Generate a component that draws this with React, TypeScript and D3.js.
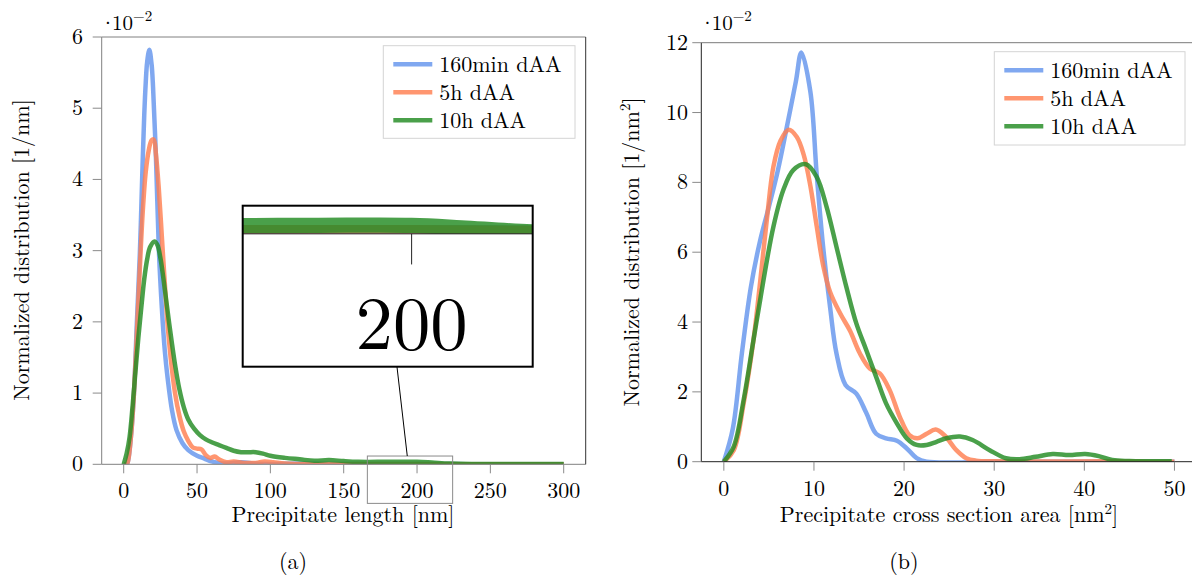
import React from 'react'
import * as d3 from 'd3'

type Pt = [number, number]

const W = 1192
const H = 577
const FONT = '"Latin Modern Roman", "Liberation Serif", serif'
const TXT = { fontFamily: FONT }

const seriesNames = ['160min dAA', '5h dAA', '10h dAA']
const seriesColors = ['#6495ed', '#ff7f50', '#228b22']

const lengthTicksX = [0, 50, 100, 150, 200, 250, 300]
const lengthTicksY = [0, 1, 2, 3, 4, 5, 6]
const areaTicksX = [0, 10, 20, 30, 40, 50]
const areaTicksY = [0, 2, 4, 6, 8, 10, 12]

// (a) precipitate length [nm] vs distribution [1e-2 / nm]
const length160min: Pt[] = [
  [0, 0], [2, 0], [3, 0.05], [5, 0.4], [7, 1.0], [9, 2.0], [11, 2.95], [12, 3.6], [13, 4.3],
  [14, 4.9], [15, 5.35], [16, 5.65], [17.5, 5.82], [19, 5.62], [20, 5.3], [22, 4.3], [24, 3.0],
  [26, 2.2], [28, 1.6], [30, 1.2], [33, 0.75], [36, 0.48], [40, 0.3], [44, 0.2], [50, 0.12],
  [55, 0.08], [60, 0.04], [65, 0.015], [70, 0.01], [80, 0.03], [90, 0.01], [100, 0.005],
  [120, 0.01], [150, 0.005], [200, 0.005], [250, 0], [300, 0],
]
const length5h: Pt[] = [
  [0, 0], [2, 0], [3, 0.05], [5, 0.4], [7, 1.0], [9, 1.85], [11, 2.75], [13, 3.55], [15, 4.1],
  [17, 4.4], [19, 4.55], [20.5, 4.56], [22, 4.35], [24, 3.85], [26, 3.2], [28, 2.55], [30, 1.95],
  [32, 1.5], [35, 1.0], [38, 0.68], [41, 0.46], [44, 0.33], [47, 0.24], [50, 0.22], [53, 0.21],
  [56, 0.13], [59, 0.09], [62, 0.11], [65, 0.07], [70, 0.03], [75, 0.04], [82, 0.02], [90, 0.02],
  [96, 0.04], [102, 0.03], [110, 0.01], [130, 0], [160, 0.005], [200, 0.005], [250, 0], [300, 0],
]
const length10h: Pt[] = [
  [0, 0], [2, 0.15], [4, 0.38], [6, 0.8], [8, 1.3], [10, 1.78], [12, 2.2], [14, 2.6], [16, 2.88],
  [18, 3.05], [21, 3.13], [23, 3.08], [25, 2.9], [27, 2.62], [29, 2.3], [31, 1.98], [33, 1.68],
  [35, 1.4], [38, 1.05], [41, 0.8], [44, 0.63], [48, 0.5], [52, 0.41], [56, 0.35], [60, 0.31],
  [65, 0.27], [70, 0.23], [75, 0.19], [80, 0.17], [85, 0.17], [90, 0.17], [95, 0.15], [100, 0.12],
  [110, 0.09], [120, 0.07], [130, 0.05], [140, 0.06], [150, 0.045], [160, 0.035], [180, 0.035],
  [200, 0.035], [210, 0.025], [222, 0.01], [240, 0.004], [270, 0.003], [300, 0.003],
]

// (b) precipitate cross section area [nm^2] vs distribution [1e-2 / nm^2]
const area160min: Pt[] = [
  [0, 0], [1, 0.95], [2, 3.1], [3, 5.0], [4, 6.3], [5, 7.3], [6, 8.35], [7, 9.6], [8, 10.9],
  [8.6, 11.72], [9.6, 10.6], [10.3, 8.25], [11, 6.2], [11.8, 4.4], [12.5, 3.1], [13.5, 2.2],
  [14.7, 1.95], [15.8, 1.4], [16.9, 0.8], [18, 0.67], [19.2, 0.6], [20.3, 0.38], [21.4, 0.1],
  [22.5, 0], [30, 0], [40, 0], [50, 0],
]
const area5h: Pt[] = [
  [0, 0], [1.1, 0.33], [2.2, 1.67], [3.3, 3.5], [4.05, 5.2], [4.8, 7.0], [5.5, 8.45], [6.3, 9.2],
  [7.2, 9.51], [8.1, 9.3], [8.85, 8.8], [9.6, 7.9], [10.3, 6.75], [11, 5.65], [11.8, 4.85],
  [12.9, 4.25], [14, 3.75], [15.1, 3.1], [16.2, 2.67], [17.3, 2.53], [18.4, 2.05], [19.5, 1.3],
  [20.6, 0.76], [21.5, 0.67], [22.5, 0.8], [23.5, 0.92], [24.5, 0.75], [25.8, 0.33], [26.9, 0.1],
  [28, 0.03], [30, 0.01], [44, 0.01], [47, 0], [50, 0],
]
const area10h: Pt[] = [
  [0, 0], [1.1, 0.43], [2.2, 1.77], [3.3, 3.5], [4.4, 5.2], [5.5, 6.73], [6.6, 7.78], [7.7, 8.35],
  [9.1, 8.52], [10.3, 8.16], [11.4, 7.3], [12.5, 6.15], [13.6, 5.0], [14.7, 3.96], [15.8, 3.2],
  [16.9, 2.43], [18, 1.67], [19.2, 1.1], [20.3, 0.67], [21.4, 0.48], [22.5, 0.48], [23.6, 0.57],
  [24.7, 0.67], [26.2, 0.72], [27.6, 0.62], [29.5, 0.33], [31.3, 0.1], [32.8, 0.07], [34.6, 0.14],
  [36.5, 0.22], [38.3, 0.19], [40.1, 0.22], [41.6, 0.16], [43.1, 0.05], [45, 0.02], [49.7, 0.01],
]

type Spy = { cx: number; cy: number; mag: number; ix: number; iy: number; w: number; h: number }

type PanelProps = {
  id: string
  x0: number; x1: number; y0: number; y1: number
  xDomain: [number, number]; yDomain: [number, number]
  xTicks: number[]; yTicks: number[]
  data: Pt[][]
  frameColor: string; axisColor: string; rightColor: string
  yLabelRight: number
  legend: { x: number; y: number; w: number; h: number }
  spy?: Spy
}

const TICK = 9
const GRAY = '#8a8a8a'

const Panel = (props: PanelProps) => {
  const { id, x0, x1, y0, y1, xDomain, yDomain, xTicks, yTicks, data, legend, spy } = props
  const x = d3.scaleLinear().domain(xDomain).range([x0, x1])
  const y = d3.scaleLinear().domain(yDomain).range([y1, y0])
  const line = d3.line<Pt>()
    .x(d => x(d[0]))
    .y(d => y(d[1]))
    .curve(d3.curveCatmullRom.alpha(0.5))

  // curves + x axis, reused by the magnifier
  const body = (tickColor: string) => (
    <g>
      <g clipPath={`url(#${id}-clip)`}>
        {data.map((s, i) => (
          <path key={i} d={line(s) || ''} fill="none" stroke={seriesColors[i]}
            strokeOpacity={0.82} strokeWidth={4.5} strokeLinejoin="round" />
        ))}
      </g>
      <line x1={x0} x2={x1} y1={y1} y2={y1} stroke={tickColor === GRAY ? props.axisColor : '#222'} vectorEffect="non-scaling-stroke" />
      {xTicks.map(t => (
        <g key={t}>
          <line x1={x(t)} x2={x(t)} y1={y1} y2={y1 + TICK} stroke={tickColor} vectorEffect="non-scaling-stroke" />
          <text x={x(t)} y={y1 + 34} textAnchor="middle" fontSize={22} style={TXT}>{t}</text>
        </g>
      ))}
    </g>
  )

  let inset = null
  if (spy) {
    const sw = spy.w / spy.mag, sh = spy.h / spy.mag
    const dx = spy.ix - spy.cx, dy = spy.iy - spy.cy
    const t1 = Math.min(sw / 2 / Math.abs(dx || 1e-9), sh / 2 / Math.abs(dy || 1e-9))
    const t2 = Math.min(spy.w / 2 / Math.abs(dx || 1e-9), spy.h / 2 / Math.abs(dy || 1e-9))
    inset = (
      <g>
        <rect x={spy.cx - sw / 2} y={spy.cy - sh / 2} width={sw} height={sh} fill="none" stroke={GRAY} strokeWidth={1} />
        <line x1={spy.cx + dx * t1} y1={spy.cy + dy * t1} x2={spy.ix - dx * t2} y2={spy.iy - dy * t2} stroke="#000" strokeWidth={1} />
        <clipPath id={`${id}-spy`}>
          <rect x={spy.ix - spy.w / 2} y={spy.iy - spy.h / 2} width={spy.w} height={spy.h} />
        </clipPath>
        <rect x={spy.ix - spy.w / 2} y={spy.iy - spy.h / 2} width={spy.w} height={spy.h} fill="#fff" />
        <g clipPath={`url(#${id}-spy)`}>
          <g transform={`translate(${spy.ix},${spy.iy}) scale(${spy.mag}) translate(${-spy.cx},${-spy.cy})`}>
            {body('#222')}
          </g>
        </g>
        <rect x={spy.ix - spy.w / 2} y={spy.iy - spy.h / 2} width={spy.w} height={spy.h} fill="none" stroke="#000" strokeWidth={2} />
      </g>
    )
  }

  return (
    <g>
      <clipPath id={`${id}-clip`}>
        <rect x={x0} y={y0} width={x1 - x0} height={y1 - y0} />
      </clipPath>
      {body(GRAY)}
      {/* frame */}
      <line x1={x0} x2={x1} y1={y0} y2={y0} stroke={props.frameColor} />
      <line x1={x1} x2={x1} y1={y0} y2={y1} stroke={props.rightColor} />
      <line x1={x0} x2={x0} y1={y0} y2={y1} stroke={props.axisColor} />
      {yTicks.map(t => (
        <g key={t}>
          <line x1={x0 - TICK} x2={x0} y1={y(t)} y2={y(t)} stroke={GRAY} />
          <text x={props.yLabelRight} y={y(t) + 7} textAnchor="end" fontSize={22} style={TXT}>{t}</text>
        </g>
      ))}
      <text x={x0 - 2} y={30} fontSize={21} style={TXT}>·<tspan dx={-4}>10</tspan><tspan dy={-9} fontSize={15}>−2</tspan></text>
      {/* legend */}
      <rect x={legend.x} y={legend.y} width={legend.w} height={legend.h} fill="#fff" stroke="#d4d4d4" />
      {seriesNames.map((n, i) => {
        const ry = legend.y + 18.5 + i * 28
        return (
          <g key={n}>
            <line x1={legend.x + 10} x2={legend.x + 49} y1={ry} y2={ry} stroke={seriesColors[i]} strokeOpacity={0.82} strokeWidth={4.5} />
            <text x={legend.x + 56} y={ry + 7.5} fontSize={22} style={TXT}>{n}</text>
          </g>
        )
      })}
      {inset}
    </g>
  )
}

const App = () => {
  return (
    <svg width={W} height={H} style={{ position: 'absolute', left: 0, top: 0, background: '#fff' }}>
      <Panel id="pa" x0={101.7} x1={585.7} y0={37} y1={464.3}
        xDomain={[-15, 315]} yDomain={[0, 6]} xTicks={lengthTicksX} yTicks={lengthTicksY}
        data={[length160min, length5h, length10h]}
        frameColor="#808080" axisColor="#808080" rightColor="#333" yLabelRight={83}
        legend={{ x: 383.3, y: 45.7, w: 191.7, h: 92.6 }}
        spy={{ cx: 410, cy: 479.7, mag: 3.4, ix: 387.7, iy: 286.2, w: 290, h: 161 }} />
      <text transform="translate(29,250) rotate(-90)" textAnchor="middle" fontSize={22} style={TXT}>Normalized distribution [1/nm]</text>
      <text x={343} y={522} textAnchor="middle" fontSize={22} style={TXT}>Precipitate length [nm]</text>
      <text x={293} y={569} textAnchor="middle" fontSize={22} style={TXT}>(a)</text>

      <Panel id="pb" x0={701.3} x1={1197} y0={42.7} y1={461.7}
        xDomain={[-2.5, 52.5]} yDomain={[0, 12]} xTicks={areaTicksX} yTicks={areaTicksY}
        data={[area160min, area5h, area10h]}
        frameColor="#7a7a7a" axisColor="#222" rightColor="#222" yLabelRight={688}
        legend={{ x: 994.3, y: 51.7, w: 190.7, h: 93.3 }} />
      <text transform="translate(639,252) rotate(-90)" textAnchor="middle" fontSize={22} style={TXT}>
        Normalized distribution [1/nm<tspan dy={-9} fontSize={15}>2</tspan><tspan dy={9}>]</tspan>
      </text>
      <text x={949} y={522} textAnchor="middle" fontSize={22} style={TXT}>
        Precipitate cross section area [nm<tspan dy={-8} fontSize={15}>2</tspan><tspan dy={8}>]</tspan>
      </text>
      <text x={904} y={569} textAnchor="middle" fontSize={22} style={TXT}>(b)</text>
    </svg>
  )
}

export default App
